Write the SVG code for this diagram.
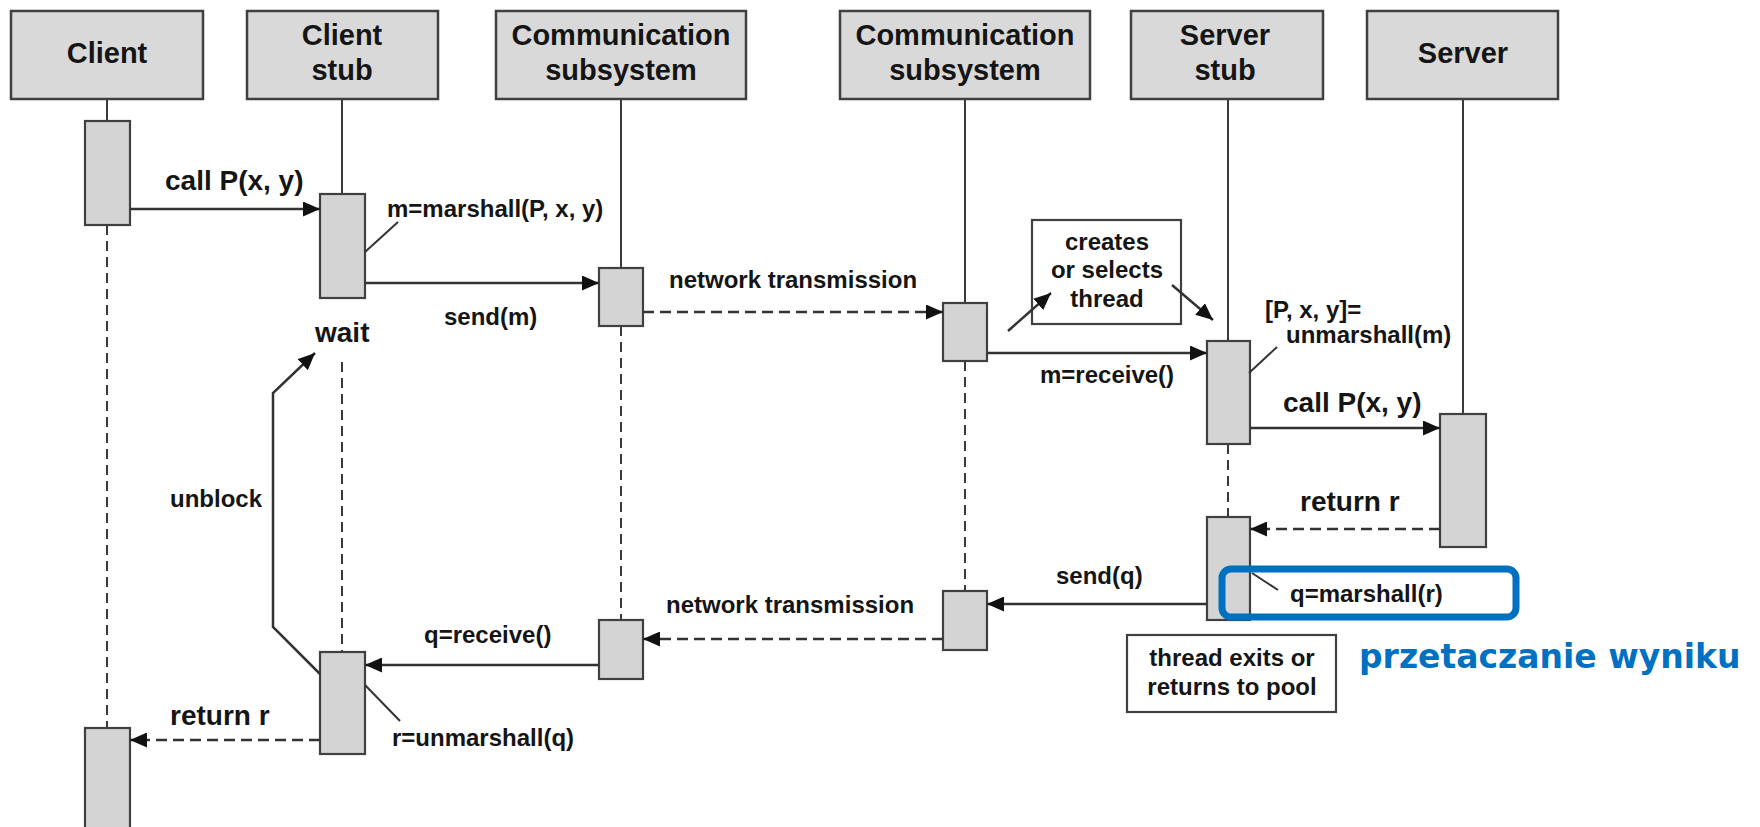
<svg xmlns="http://www.w3.org/2000/svg" width="1760" height="827" viewBox="0 0 1760 827">
<style>
.hdr{fill:#d9d9d9;stroke:#404040;stroke-width:2.5}
.act{fill:#d4d4d4;stroke:#404040;stroke-width:2.2}
.note{fill:#ffffff;stroke:#404040;stroke-width:2.2}
.ht{font-family:"Liberation Sans",Arial,sans-serif;font-weight:bold;font-size:29px;fill:#151515;text-anchor:middle}
.lb{font-family:"Liberation Sans",Arial,sans-serif;font-weight:bold;font-size:24px;fill:#151515}
.bg{font-family:"Liberation Sans",Arial,sans-serif;font-weight:bold;font-size:28px;fill:#151515}
.mid{text-anchor:middle}
.life{stroke:#3a3a3a;stroke-width:2;fill:none}
.dash{stroke:#3a3a3a;stroke-width:2;fill:none;stroke-dasharray:10 6}
.msg{stroke:#333;stroke-width:2.5;fill:none;marker-end:url(#ah)}
.ret{stroke:#333;stroke-width:2.5;fill:none;stroke-dasharray:11 6;marker-end:url(#ah)}
.lead{stroke:#333;stroke-width:2;fill:none}
</style>
<defs>
<marker id="ah" markerUnits="userSpaceOnUse" markerWidth="17" markerHeight="15" refX="17" refY="7.5" orient="auto">
<path d="M0,0 L17,7.5 L0,15 z" fill="#111"/>
</marker>
</defs>
<rect width="1760" height="827" fill="#ffffff"/>

<g id="lifelines">
<line class="life" x1="107" y1="100" x2="107" y2="121"/>
<line class="dash" x1="107" y1="225" x2="107" y2="728"/>
<line class="life" x1="342" y1="100" x2="342" y2="194"/>
<line class="dash" x1="342" y1="362" x2="342" y2="652"/>
<line class="life" x1="621" y1="100" x2="621" y2="268"/>
<line class="dash" x1="621" y1="326" x2="621" y2="620"/>
<line class="life" x1="965" y1="100" x2="965" y2="303"/>
<line class="dash" x1="965" y1="361" x2="965" y2="591"/>
<line class="life" x1="1228" y1="100" x2="1228" y2="341"/>
<line class="dash" x1="1228" y1="444" x2="1228" y2="517"/>
<line class="life" x1="1463" y1="100" x2="1463" y2="414"/>
</g>

<g id="client">
<rect class="hdr" x="11" y="11" width="192" height="88"/>
<text class="ht" x="107" y="63">Client</text>
<rect class="act" x="85" y="121" width="45" height="104"/>
<rect class="act" x="85" y="728" width="45" height="110"/>
</g>
<g id="client-stub">
<rect class="hdr" x="247" y="11" width="191" height="88"/>
<text class="ht" x="342" y="45">Client</text>
<text class="ht" x="342" y="80">stub</text>
<rect class="act" x="320" y="194" width="45" height="104"/>
<rect class="act" x="320" y="652" width="45" height="102"/>
</g>
<g id="comm1">
<rect class="hdr" x="496" y="11" width="250" height="88"/>
<text class="ht" x="621" y="45">Communication</text>
<text class="ht" x="621" y="80">subsystem</text>
<rect class="act" x="599" y="268" width="44" height="58"/>
<rect class="act" x="599" y="620" width="44" height="59"/>
</g>
<g id="comm2">
<rect class="hdr" x="840" y="11" width="250" height="88"/>
<text class="ht" x="965" y="45">Communication</text>
<text class="ht" x="965" y="80">subsystem</text>
<rect class="act" x="943" y="303" width="44" height="58"/>
<rect class="act" x="943" y="591" width="44" height="59"/>
</g>
<g id="server-stub">
<rect class="hdr" x="1131" y="11" width="192" height="88"/>
<text class="ht" x="1225" y="45">Server</text>
<text class="ht" x="1225" y="80">stub</text>
<rect class="act" x="1207" y="341" width="43" height="103"/>
<rect class="act" x="1207" y="517" width="43" height="103"/>
</g>
<g id="server">
<rect class="hdr" x="1367" y="11" width="191" height="88"/>
<text class="ht" x="1463" y="63">Server</text>
<rect class="act" x="1440" y="414" width="46" height="133"/>
</g>

<g id="note-thread">
<rect class="note" x="1032" y="220" width="149" height="104"/>
<text class="lb mid" x="1107" y="250">creates</text>
<text class="lb mid" x="1107" y="278">or selects</text>
<text class="lb mid" x="1107" y="307">thread</text>
</g>
<g id="note-exit">
<rect class="note" x="1127" y="635" width="209" height="77"/>
<text class="lb mid" x="1232" y="666">thread exits or</text>
<text class="lb mid" x="1232" y="695">returns to pool</text>
</g>

<g id="connectors">
<line class="msg" x1="130" y1="209" x2="320" y2="209"/>
<line class="msg" x1="365" y1="283" x2="599" y2="283"/>
<line class="ret" x1="643" y1="312" x2="943" y2="312"/>
<line class="msg" x1="987" y1="353" x2="1207" y2="353"/>
<line class="msg" x1="1250" y1="428" x2="1440" y2="428"/>
<line class="ret" x1="1440" y1="529" x2="1250" y2="529"/>
<line class="msg" x1="1207" y1="604" x2="987" y2="604"/>
<line class="ret" x1="943" y1="639" x2="643" y2="639"/>
<line class="msg" x1="599" y1="665" x2="365" y2="665"/>
<line class="ret" x1="320" y1="740" x2="130" y2="740"/>
<polyline class="msg" points="320,674 273,627 273,393 315,353"/>
<line class="msg" x1="1008" y1="331" x2="1051" y2="293"/>
<line class="msg" x1="1172" y1="285" x2="1213" y2="320"/>
<line class="lead" x1="365" y1="252" x2="398" y2="222"/>
<line class="lead" x1="1249" y1="373" x2="1277" y2="347"/>
<line class="lead" x1="1252" y1="573" x2="1278" y2="590"/>
<line class="lead" x1="365" y1="685" x2="400" y2="721"/>
</g>

<g id="labels">
<text class="bg" x="165" y="190">call P(x, y)</text>
<text class="lb" x="387" y="217">m=marshall(P, x, y)</text>
<text class="lb" x="444" y="325">send(m)</text>
<text class="lb" x="669" y="288">network transmission</text>
<text class="bg" x="315" y="342">wait</text>
<text class="lb" x="170" y="507">unblock</text>
<text class="lb" x="1040" y="383">m=receive()</text>
<text class="lb" x="1265" y="318">[P, x, y]=</text>
<text class="lb" x="1286" y="343">unmarshall(m)</text>
<text class="bg" x="1283" y="412">call P(x, y)</text>
<text class="bg" x="1300" y="511">return r</text>
<text class="lb" x="1056" y="584">send(q)</text>
<text class="lb" x="1290" y="602">q=marshall(r)</text>
<text class="lb" x="666" y="613">network transmission</text>
<text class="lb" x="424" y="643">q=receive()</text>
<text class="bg" x="170" y="725">return r</text>
<text class="lb" x="392" y="746">r=unmarshall(q)</text>
</g>

<g id="highlight">
<rect x="1222" y="569" width="294" height="48" rx="9" ry="9" fill="none" stroke="#0070c0" stroke-width="7"/>
<text x="1359" y="668" font-family="'DejaVu Sans',Verdana,sans-serif" font-weight="bold" font-size="33" fill="#0070c0">przetaczanie wyniku</text>
</g>
</svg>
